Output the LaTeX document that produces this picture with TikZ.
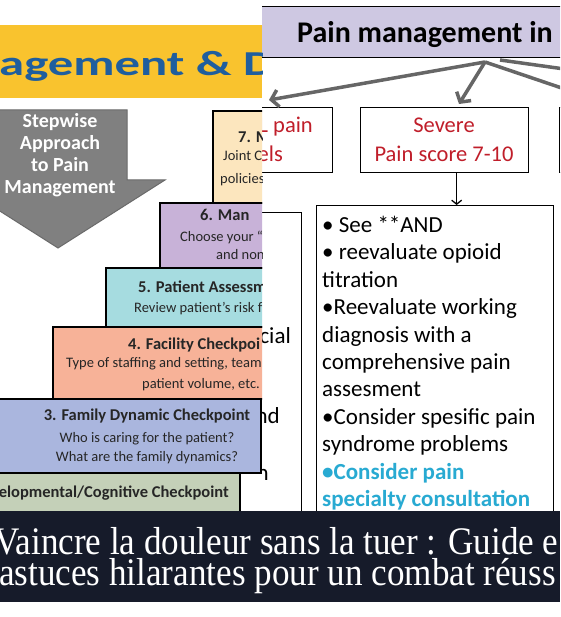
\documentclass[tikz,border=0pt]{standalone}
\usepackage{fontspec}
\setmainfont{Carlito}
\newfontfamily\widefont[FakeStretch=1.45]{Carlito}
\newfontfamily\bannerfont[FakeStretch=0.9]{Liberation Serif}
\usetikzlibrary{arrows.meta}

\definecolor{titleyellow}{HTML}{F9C32E}
\definecolor{titleblue}{HTML}{1F5E9E}
\definecolor{arrowfill}{HTML}{808080}
\definecolor{arrowedge}{HTML}{6A6A6A}
\definecolor{stepbeige}{HTML}{FCE6BE}
\definecolor{steplilac}{HTML}{C8B2D8}
\definecolor{stepcyan}{HTML}{A6DCE0}
\definecolor{stepsalmon}{HTML}{F7B298}
\definecolor{stepblue}{HTML}{AAB6DE}
\definecolor{stepsage}{HTML}{C4D0B8}
\definecolor{stepink}{HTML}{262626}
\definecolor{hdrlilac}{HTML}{CEC8E2}
\definecolor{painred}{HTML}{C01E2A}
\definecolor{consultcyan}{HTML}{28AAD2}
\definecolor{linegray}{HTML}{666666}
\definecolor{bannernavy}{HTML}{161B2A}

\begin{document}
\begin{tikzpicture}[x=1pt,y=-1pt,
    stepbox/.style={draw=black, line width=1.6pt},
    stephead/.style={anchor=west, inner sep=0pt, text height=.68em, text depth=.18em, text=stepink, font=\fontsize{16.5}{19}\selectfont\bfseries},
    stepsub/.style={stephead, font=\fontsize{14.5}{17}\selectfont},
    flowbox/.style={draw=black, line width=1.3pt, fill=white, inner sep=0pt},
    redtext/.style={text=painred, inner sep=0pt, font=\fontsize{22.5}{27}\selectfont},
    cuttext/.style={anchor=base east, inner sep=0pt, font=\fontsize{23}{27}\selectfont},
    grayline/.style={draw=linegray, line width=3.5pt},
    grayarrow/.style={grayline, -{Straight Barb[length=7pt,width=17pt]}},
    blackarrow/.style={draw=black, line width=1.3pt, -{Straight Barb[length=4pt,width=10pt]}}]

    \useasboundingbox[fill=white] (0,0) rectangle (560,617);

    % flowchart on the right
    \begin{scope}
    \clip (262,0) rectangle (560,511);
    \node[flowbox, fill=hdrlilac, minimum width=360pt, minimum height=51pt, anchor=north west] (hdr) at (250,6) {};
    \node[anchor=base west, inner sep=0pt, font=\fontsize{30}{34}\selectfont\bfseries] (hdrtext) at (297,43) {Pain management in};

    \coordinate (fork) at (485,62);
    \coordinate (forkR) at (500,60);
    \coordinate (tipL) at (269,100);
    \coordinate (tipS) at (459,104);
    \coordinate (offR1) at (600,74);
    \coordinate (offR2) at (600,101);

    \node[flowbox, minimum width=100pt, minimum height=65pt, anchor=north east] (allbox) at (333,107) {};
    \node[flowbox, minimum width=168pt, minimum height=65pt, anchor=north west] (severe) at (360,107) {};
    \node[flowbox, minimum width=100pt, minimum height=65pt, anchor=north west] (rightbox) at (559,107) {};
    \node[flowbox, minimum width=100pt, minimum height=330pt, anchor=north east] (leftdetail) at (302,212) {};
    \node[flowbox, minimum width=237pt, minimum height=330pt, anchor=north west] (detail) at (316,205) {};

    \draw[grayarrow] (fork) -- (tipL);
    \draw[grayarrow] (fork) -- (tipS);
    \draw[grayline] (forkR) -- (offR1);
    \draw[grayline] (fork) -- (offR2);
    \draw[blackarrow] ([xshift=12pt]severe.south) -- ([xshift=12pt]severe.south |- detail.north);

    \node[redtext, anchor=base east] (all1) at (313,133) {L pain};
    \node[redtext, anchor=base east] (all2) at (283,162) {els};
    \node[redtext, anchor=base] (sev1) at (444,133) {Severe};
    \node[redtext, anchor=base] (sev2) at (444,162) {Pain score 7-10};

    \node[cuttext] (cut1) at (291,343) {cial};
    \node[cuttext] (cut2) at (280,423) {nd};
    \node[cuttext] (cut3) at (269,480) {n};

    \node[anchor=north west, inner sep=0pt, align=left, font=\fontsize{23}{27.4}\selectfont] (detailtext) at (322,216)
      {• See **AND\\
       • reevaluate opioid\\
       titration\\
       •Reevaluate working\\
       diagnosis with a\\
       comprehensive pain\\
       assesment\\
       •Consider spesific pain\\
       syndrome problems\\
       \textcolor{consultcyan}{\bfseries •Consider pain}\\
       \textcolor{consultcyan}{\bfseries specialty consultation}};
    \end{scope}

    % stepwise staircase on the left
    \begin{scope}
    \clip (0,0) rectangle (262,511);
    \fill[titleyellow] (0,25) rectangle (262,98);
    \node[anchor=base west, inner sep=0pt, text=titleblue, font=\widefont\fontsize{35}{40}\selectfont\bfseries] (title) at (-1,76) {agement \& Do};

    \filldraw[fill=arrowfill, draw=arrowedge, line width=1pt] (-11,110) -- (127,110) -- (127,180) -- (165,180) -- (58,248) -- (-49,180) -- (-11,180) -- cycle;
    \node[align=center, inner sep=0pt, text=white, font=\fontsize{20}{22}\selectfont\bfseries] (stepwise) at (60,155) {Stepwise\\Approach\\to Pain\\Management};

    \path[stepbox, fill=stepbeige] (213,111) rectangle (300,203);
    \path[stepbox, fill=steplilac] (160,203) rectangle (300,268);
    \path[stepbox, fill=stepcyan] (106,268) rectangle (300,327);
    \path[stepbox, fill=stepsalmon] (53,327) rectangle (300,399);
    \path[stepbox, fill=stepblue] (-10,399) rectangle (261,473);
    \path[stepbox, fill=stepsage] (-10,473) rectangle (240,530);

    \node[stephead] (s7) at (238,140) {7. M};
    \node[stepsub] (s7a) at (223,158) {Joint C};
    \node[stepsub] (s7b) at (220,181) {policies,};
    \node[stephead] (s6) at (200,218) {6. Man};
    \node[stepsub] (s6a) at (180,239) {Choose your “i};
    \node[stepsub] (s6b) at (216,257) {and non};
    \node[stephead] (s5) at (138,290) {5. Patient Assessm};
    \node[stepsub] (s5a) at (134,310) {Review patient’s risk f};
    \node[stephead] (s4) at (128,347) {4. Facility Checkpoi};
    \node[stepsub] (s4a) at (66,365) {Type of staffing and setting, team};
    \node[stepsub] (s4b) at (142,386) {patient volume, etc.};
    \node[stephead, anchor=center] (s3) at (147,418) {3. Family Dynamic Checkpoint};
    \node[stepsub, anchor=center] (s3a) at (147,440) {Who is caring for the patient?};
    \node[stepsub, anchor=center] (s3b) at (147,459) {What are the family dynamics?};
    \node[stephead, anchor=east] (s2) at (229,495) {elopmental/Cognitive Checkpoint};
    \end{scope}

    % title banner
    \begin{scope}
    \clip (0,511) rectangle (560,602);
    \fill[bannernavy] (0,511) rectangle (560,602);
    \node[anchor=base west, inner sep=0pt, text=white, font=\bannerfont\fontsize{39}{31}\selectfont] (banner1) at (-6,554) {Vaincre la douleur sans la tuer : Guide e};
    \node[anchor=base west, inner sep=0pt, text=white, font=\bannerfont\fontsize{39}{31}\selectfont] (banner2) at (-1,585) {astuces hilarantes pour un combat réuss};
    \end{scope}
\end{tikzpicture}
\end{document}
